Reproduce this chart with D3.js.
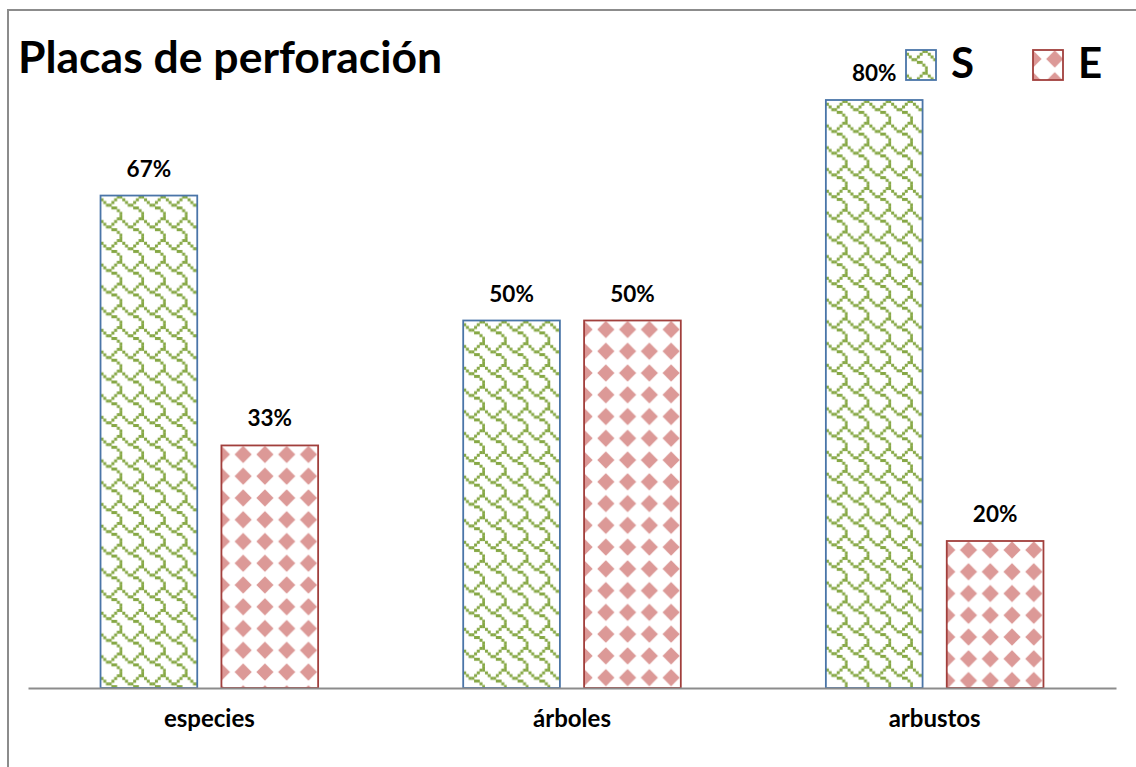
<!DOCTYPE html>
<html>
<head>
<meta charset="utf-8">
<script src="https://cdn.jsdelivr.net/npm/d3@7"></script>
<style>
  html, body { margin: 0; padding: 0; background: #fff; }
  svg { display: block; font-family: Lato, "Open Sans", sans-serif; }
</style>
</head>
<body>
<svg id="chart" width="1136" height="767"></svg>
<script>
const title = "Placas de perforación";
const categories = ["especies", "árboles", "arbustos"];
const seriesNames = ["S", "E"];
const valuesS = [67, 50, 80];
const valuesE = [33, 50, 20];
const labelsS = ["67%", "50%", "80%"];
const labelsE = ["33%", "50%", "20%"];

const svg = d3.select("#chart");
const W = 1136, H = 767;

// frame
svg.append("path")
  .attr("d", `M8,${H} L8,10 L${W},10`)
  .attr("fill", "none").attr("stroke", "#8c8c8c").attr("stroke-width", 2);

// patterns (anchored to each bar's top-left corner)
const defs = svg.append("defs");
const cell = 2.72, tile = cell * 8;
const shingle = [0x03, 0x84, 0x48, 0x30, 0x0c, 0x02, 0x01, 0x01];
const pS = defs.append("pattern").attr("id", "patS")
  .attr("patternUnits", "userSpaceOnUse").attr("width", tile).attr("height", tile)
  .attr("x", 0).attr("y", 0);
pS.append("rect").attr("width", tile).attr("height", tile).attr("fill", "#fff");
shingle.forEach((b, r) => {
  for (let c = 0; c < 8; c++) {
    if (b & (0x80 >> c)) {
      pS.append("rect").attr("x", c * cell).attr("y", r * cell)
        .attr("width", cell + 0.3).attr("height", cell + 0.3).attr("fill", "#86a845");
    }
  }
});
const pE = defs.append("pattern").attr("id", "patE")
  .attr("patternUnits", "userSpaceOnUse").attr("width", tile).attr("height", tile)
  .attr("x", -tile / 2).attr("y", 9 - tile / 2);
pE.append("rect").attr("width", tile).attr("height", tile).attr("fill", "#fff");
const h = tile / 2, d = 8.6;
pE.append("path")
  .attr("d", `M${h},${h - d} L${h + d},${h} L${h},${h + d} L${h - d},${h} Z`)
  .attr("fill", "#dc9997");

const base = 688;
const x = d3.scaleBand().domain(categories).range([28, 1116]).padding(0);
const xi = d3.scaleBand().domain(seriesNames).range([0, x.bandwidth()])
  .paddingInner(0.2).paddingOuter(0.6);
const y = d3.scaleLinear().domain([0, 80]).range([base, 100]);

const fills = { S: "url(#patS)", E: "url(#patE)" };
const strokes = { S: "#4a75a8", E: "#a13f3c" };

const rows = categories.map((c, i) => ({
  cat: c,
  items: [
    { s: "S", v: valuesS[i], lab: labelsS[i] },
    { s: "E", v: valuesE[i], lab: labelsE[i] }
  ]
}));

const g = svg.append("g");
const groups = g.selectAll("g.cat").data(rows).join("g")
  .attr("transform", r => `translate(${x(r.cat)},0)`);

groups.selectAll("g.bar").data(r => r.items).join("g")
  .attr("class", "bar")
  .attr("transform", d => `translate(${xi(d.s)},${y(d.v)})`)
  .append("rect")
  .attr("x", 0).attr("y", 0)
  .attr("width", xi.bandwidth())
  .attr("height", d => base - y(d.v))
  .attr("fill", d => fills[d.s])
  .attr("stroke", d => strokes[d.s])
  .attr("stroke-width", 1.8);

groups.selectAll("text.lab").data(r => r.items).join("text")
  .attr("class", "lab")
  .attr("x", d => xi(d.s) + xi.bandwidth() / 2)
  .attr("y", d => y(d.v) - 19)
  .attr("text-anchor", "middle")
  .attr("font-size", 22.5).attr("font-weight", "bold").attr("fill", "#000")
  .text(d => d.lab);

// axis
const axis = d3.axisBottom(x).tickSize(0).tickPadding(0);
const ax = svg.append("g").attr("transform", `translate(0,${base})`).call(axis);
ax.select(".domain").attr("stroke", "#8c8c8c").attr("stroke-width", 2);
ax.selectAll(".tick text")
  .attr("y", 39).attr("dy", null)
  .attr("font-family", "Lato, 'Open Sans', sans-serif")
  .attr("font-size", 24).attr("font-weight", "bold").attr("fill", "#000");

// title
svg.append("text").attr("x", 18).attr("y", 73)
  .attr("font-size", 44.5).attr("font-weight", "bold").attr("fill", "#000")
  .text(title);

// legend
const legX = [906, 1033];
const lg = svg.append("g").selectAll("g").data(seriesNames).join("g")
  .attr("transform", (s, i) => `translate(${legX[i]},50)`);
lg.append("rect").attr("width", 30).attr("height", 30)
  .attr("fill", s => fills[s]).attr("stroke", s => strokes[s]).attr("stroke-width", 1.8);
lg.append("text").attr("x", 45).attr("y", 28)
  .attr("font-size", 42).attr("font-weight", "bold").attr("fill", "#000")
  .text(s => s);
</script>
</body>
</html>
